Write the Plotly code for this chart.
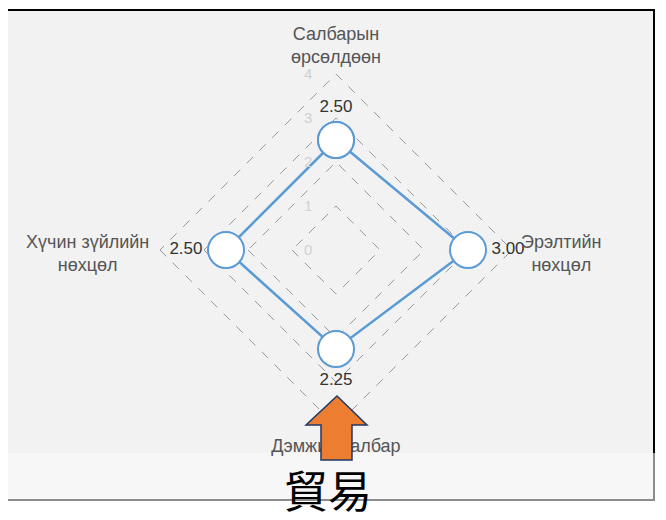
import plotly.graph_objects as go

# 페이지 body 에 8px 여백이 있으므로 그만큼 줄이고 좌표도 8px 보정한다
OFF = 8
W, H = 666 - OFF, 520 - OFF

# 레이더 축(시계 방향: 위, 오른쪽, 아래, 왼쪽)과 점수
categories = ["Салбарын<br>өрсөлдөөн", "Эрэлтийн<br>нөхцөл", "Дэмжих салбар", "Хүчин зүйлийн<br>нөхцөл"]
scores = [2.50, 3.00, 2.25, 2.50]
radial_ticks = [0, 1, 2, 3, 4]
caption = "貿易"

LINE_BLUE = "#5B9BD5"
FONT = "Liberation Sans, Arial, sans-serif"
R_MAX = 4.6           # 아래 축 이름(화살표 밑에 깔림)을 극좌표 안에 넣기 위한 여유
PX_PER_UNIT = 44.0
# 여러 줄 축 이름은 가운데 정렬이 필요해서 annotation 으로 (픽셀 위치)
LABEL_POS = {0: (336, 45), 1: (561, 253), 3: (87, 253)}
BOTTOM_LABEL_R = 4.5


def px(x):
    return (x - OFF) / W


def py(y):
    return 1 - (y - OFF) / H


theta = categories + categories[:1]
r = scores + scores[:1]
labels = [f"{v:.2f}" for v in scores] + [""]

fig = go.Figure()
fig.add_trace(go.Scatterpolar(
    r=r, theta=theta, mode="lines+markers+text",
    line=dict(color=LINE_BLUE, width=2.5),
    marker=dict(size=36, color="white", line=dict(color=LINE_BLUE, width=2)),
    text=labels,
    textposition=["top center", "middle right", "bottom center", "middle left", "top center"],
    textfont=dict(family=FONT, size=17, color="#333333"),
    cliponaxis=False, showlegend=False, hoverinfo="skip",
))
# 아래 축 이름: 화살표 도형 밑에 그려져야 하므로 트레이스 텍스트로
fig.add_trace(go.Scatterpolar(
    r=[BOTTOM_LABEL_R], theta=[categories[2]], mode="text", text=[categories[2]],
    textposition="middle center",
    textfont=dict(family=FONT, size=18, color="#555555"),
    cliponaxis=False, showlegend=False, hoverinfo="skip",
))

annotations = [
    dict(text=categories[i], xref="paper", yref="paper", x=px(x), y=py(y),
         xanchor="center", yanchor="middle", align="center", showarrow=False,
         font=dict(family=FONT, size=18, color="#555555"))
    for i, (x, y) in LABEL_POS.items()
]
annotations.append(
    dict(text=caption, xref="paper", yref="paper", x=px(328), y=py(489),
         xanchor="center", yanchor="middle", showarrow=False,
         font=dict(family="Noto Sans CJK JP", size=44, color="black"))
)

cx, cy = 336, 250
rad = PX_PER_UNIT * R_MAX
fig.update_layout(
    width=W, height=H, margin=dict(l=0, r=0, t=0, b=0),
    paper_bgcolor="white", font=dict(family=FONT),
    polar=dict(
        domain=dict(x=[px(cx - rad), px(cx + rad)], y=[py(cy + rad), py(cy - rad)]),
        bgcolor="rgba(0,0,0,0)",
        gridshape="linear",
        radialaxis=dict(
            range=[0, R_MAX], tickvals=radial_ticks, angle=90, tickangle=90,
            side="counterclockwise", showline=False,
            ticks="outside", ticklen=18, tickcolor="rgba(0,0,0,0)",
            showgrid=True, gridcolor="#999999", griddash="dash", gridwidth=1,
            tickfont=dict(family=FONT, size=15, color="#d0d0d0"),
        ),
        angularaxis=dict(
            rotation=90, direction="clockwise", showline=False, showgrid=False,
            showticklabels=False, ticks="",
        ),
    ),
    shapes=[
        dict(type="rect", xref="paper", yref="paper", layer="below",
             x0=px(0), x1=px(654), y0=py(454), y1=py(10),
             fillcolor="#f2f2f2", line=dict(color="black", width=2)),
        dict(type="rect", xref="paper", yref="paper", layer="below",
             x0=px(0), x1=px(654), y0=py(500), y1=py(453),
             fillcolor="#f7f7f7", line=dict(width=0)),
        dict(type="path", xref="paper", yref="paper", layer="below",
             path=f"M{px(0)},{py(453)} L{px(0)},{py(500)} L{px(654)},{py(500)} L{px(654)},{py(453)}",
             line=dict(color="#8c8c8c", width=2)),
        dict(type="path", xref="paper", yref="paper", layer="above",
             path=(f"M{px(337)},{py(396)} L{px(367)},{py(425)} L{px(352)},{py(425)} "
                   f"L{px(352)},{py(460)} L{px(321)},{py(460)} L{px(321)},{py(425)} "
                   f"L{px(306)},{py(425)} Z"),
             fillcolor="#ED7D31", line=dict(color="#1F3864", width=1.5)),
    ],
    annotations=annotations,
)

fig.write_html("out.html")
